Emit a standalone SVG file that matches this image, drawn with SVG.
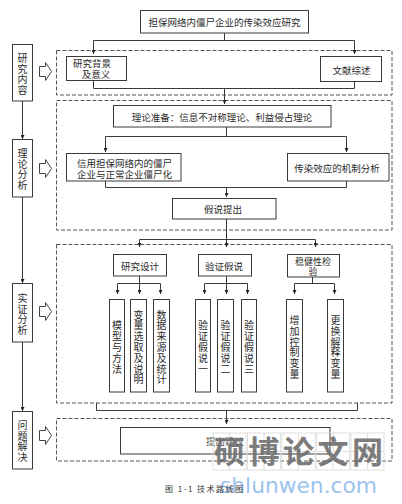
<svg xmlns="http://www.w3.org/2000/svg" width="402" height="504" viewBox="0 0 402 504">
<style>
.bg{fill:#ffffff}
.box{fill:#ffffff;stroke:#3a3a3a;stroke-width:1}
.frame{fill:none;stroke:#555555;stroke-width:1;stroke-dasharray:4 2}
.t{font-family:"Noto Sans CJK SC","Noto Sans CJK JP",sans-serif;font-size:9.5px;fill:#2a2a2a;text-anchor:middle;dominant-baseline:central}
.v{font-family:"Noto Sans CJK SC","Noto Sans CJK JP",sans-serif;font-size:10px;fill:#2a2a2a;text-anchor:middle;dominant-baseline:central}
.s{font-family:"Noto Sans CJK SC","Noto Sans CJK JP",sans-serif;font-size:10px;fill:#2a2a2a;text-anchor:middle;dominant-baseline:central}
.line{fill:none;stroke:#3a3a3a;stroke-width:1}
.hollow{fill:#ffffff;stroke:#444444;stroke-width:1}
.wm{font-family:"Noto Sans CJK SC",sans-serif;font-size:31px;font-weight:bold;fill:#6e6e6e;text-anchor:middle;opacity:0.9}
.cell{fill:none;stroke:#d8d8d8;stroke-width:0.8}
</style>
<defs>
<marker id="ah" viewBox="0 0 6 6" refX="6" refY="3" markerWidth="4" markerHeight="4" orient="auto" markerUnits="userSpaceOnUse">
<path d="M0,0 L6,3 L0,6 z" fill="#222222"/>
</marker>
<path id="harrow" d="M0,4 H6 V0 L12,9 L6,18 V14 H0 Z"/>
</defs>
<rect class="bg" x="0" y="0" width="402" height="504"/>

<g id="frames">
<rect class="frame" x="56.5" y="50.5" width="335.5" height="44.5"/>
<rect class="frame" x="56.5" y="100.5" width="335.5" height="129.5"/>
<rect class="frame" x="56.5" y="244.5" width="335.5" height="158.5"/>
<rect class="frame" x="56.5" y="418.5" width="335.5" height="42.5"/>
</g>

<g id="connectors">
<path class="line" d="M224.5,33 V40.5 M93.5,40.5 H354.5"/>
<path class="line" marker-end="url(#ah)" d="M93.5,40.5 V54"/>
<path class="line" marker-end="url(#ah)" d="M354.5,40.5 V54"/>
<path class="line" d="M93.5,80 V88.5 H354.5 V81"/>
<path class="line" marker-end="url(#ah)" d="M224.5,88.5 V104"/>
<path class="line" d="M226.5,127 V136.5 M105.5,136.5 H346.5"/>
<path class="line" marker-end="url(#ah)" d="M105.5,136.5 V152"/>
<path class="line" marker-end="url(#ah)" d="M346.5,136.5 V152"/>
<path class="line" d="M105.5,181 V187.5 H346.5 V181"/>
<path class="line" marker-end="url(#ah)" d="M226.5,187.5 V197"/>
<path class="line" d="M226.5,219 V239.5 M139.5,239.5 H315.5"/>
<path class="line" marker-end="url(#ah)" d="M139.5,239.5 V247"/>
<path class="line" marker-end="url(#ah)" d="M226.5,239.5 V247"/>
<path class="line" marker-end="url(#ah)" d="M315.5,239.5 V247"/>
<path class="line" d="M139.5,276 V283.5 M117.5,283.5 H160.5"/>
<path class="line" marker-end="url(#ah)" d="M117.5,283.5 V294"/>
<path class="line" marker-end="url(#ah)" d="M139.5,283.5 V294"/>
<path class="line" marker-end="url(#ah)" d="M160.5,283.5 V294"/>
<path class="line" d="M226.5,276 V283.5 M204.5,283.5 H247.5"/>
<path class="line" marker-end="url(#ah)" d="M204.5,283.5 V294"/>
<path class="line" marker-end="url(#ah)" d="M226.5,283.5 V294"/>
<path class="line" marker-end="url(#ah)" d="M247.5,283.5 V294"/>
<path class="line" d="M312.5,277 V283.5 M294.5,283.5 H334.5"/>
<path class="line" marker-end="url(#ah)" d="M294.5,283.5 V294"/>
<path class="line" marker-end="url(#ah)" d="M334.5,283.5 V294"/>
<path class="line" d="M96.5,403 V410.5 H357.5 V403"/>
<path class="line" marker-end="url(#ah)" d="M226.5,410.5 V424"/>
<path class="line" marker-end="url(#ah)" d="M22.5,101 V139"/>
<path class="line" marker-end="url(#ah)" d="M22.5,197 V283"/>
<path class="line" marker-end="url(#ah)" d="M22.5,342 V411"/>
</g>

<g id="side-arrows">
<use href="#harrow" class="hollow" x="39.5" y="62.5"/>
<use href="#harrow" class="hollow" x="39.5" y="159.5"/>
<use href="#harrow" class="hollow" x="39.5" y="302.5"/>
<use href="#harrow" class="hollow" x="39.5" y="426.5"/>
</g>

<g id="n-title"><rect class="box" x="140.5" y="10.5" width="168" height="22.5"/><text class="t" x="224.5" y="22">担保网络内僵尸企业的传染效应研究</text></g>

<g id="n-side1"><rect class="box" x="12.5" y="44.5" width="20" height="56.5"/><text class="s"><tspan x="22.5" y="57.25">研</tspan><tspan x="22.5" y="67.75">究</tspan><tspan x="22.5" y="78.25">内</tspan><tspan x="22.5" y="88.75">容</tspan></text></g>
<g id="n-side2"><rect class="box" x="12.5" y="139.5" width="20" height="57.5"/><text class="s"><tspan x="22.5" y="152.25">理</tspan><tspan x="22.5" y="162.75">论</tspan><tspan x="22.5" y="173.25">分</tspan><tspan x="22.5" y="183.75">析</tspan></text></g>
<g id="n-side3"><rect class="box" x="12.5" y="283.5" width="20" height="58.5"/><text class="s"><tspan x="22.5" y="297.25">实</tspan><tspan x="22.5" y="307.75">证</tspan><tspan x="22.5" y="318.25">分</tspan><tspan x="22.5" y="328.75">析</tspan></text></g>
<g id="n-side4"><rect class="box" x="12.5" y="411.5" width="20" height="57.5"/><text class="s"><tspan x="22.5" y="424.25">问</tspan><tspan x="22.5" y="434.75">题</tspan><tspan x="22.5" y="445.25">解</tspan><tspan x="22.5" y="455.75">决</tspan></text></g>

<g id="n-bg"><rect class="box" x="66.5" y="56.5" width="60" height="24"/><text class="t" x="92" y="62.5">研究背景</text><text class="t" x="96" y="73.5">及意义</text></g>
<g id="n-lit"><rect class="box" x="320.5" y="56.5" width="61" height="25"/><text class="t" x="351.5" y="69.5">文献综述</text></g>

<g id="n-theory"><rect class="box" x="113.5" y="105.5" width="217.5" height="21.5"/><text class="t" x="222" y="116.5">理论准备：信息不对称理论、利益侵占理论</text></g>
<g id="n-zombie"><rect class="box" x="66.5" y="153.5" width="114.5" height="27.5"/><text class="t" x="124.5" y="162.5">信用担保网络内的僵尸</text><text class="t" x="124.5" y="173.5">企业与正常企业僵尸化</text></g>
<g id="n-mech"><rect class="box" x="287.5" y="153.5" width="101.5" height="27.5"/><text class="t" x="337" y="168">传染效应的机制分析</text></g>
<g id="n-hyp"><rect class="box" x="172.5" y="198.5" width="103.5" height="20.5"/><text class="t" x="223" y="209">假说提出</text></g>

<g id="n-design"><rect class="box" x="113.5" y="254.5" width="53" height="21.5"/><text class="t" x="140" y="266">研究设计</text></g>
<g id="n-verify"><rect class="box" x="198.5" y="254.5" width="53" height="21.5"/><text class="t" x="224" y="266">验证假说</text></g>
<g id="n-robust"><rect class="box" x="287.5" y="254.5" width="52" height="22.5"/><text class="t" x="313" y="261" style="font-size:9px">稳健性检</text><text class="t" x="313" y="271.5" style="font-size:9px">验</text></g>

<g id="n-model"><rect class="box" x="109.5" y="299.5" width="15" height="92.5"/><text class="v"><tspan x="117" y="324.4">模</tspan><tspan x="117" y="335.2">型</tspan><tspan x="117" y="346">与</tspan><tspan x="117" y="356.8">方</tspan><tspan x="117" y="367.6">法</tspan></text></g>
<g id="n-var"><rect class="box" x="130.5" y="299.5" width="16" height="92.5"/><text class="v"><tspan x="138.5" y="313.6">变</tspan><tspan x="138.5" y="324.4">量</tspan><tspan x="138.5" y="335.2">选</tspan><tspan x="138.5" y="346">取</tspan><tspan x="138.5" y="356.8">及</tspan><tspan x="138.5" y="367.6">说</tspan><tspan x="138.5" y="378.4">明</tspan></text></g>
<g id="n-data"><rect class="box" x="153.5" y="299.5" width="16" height="92.5"/><text class="v"><tspan x="161.5" y="313.6">数</tspan><tspan x="161.5" y="324.4">据</tspan><tspan x="161.5" y="335.2">来</tspan><tspan x="161.5" y="346">源</tspan><tspan x="161.5" y="356.8">及</tspan><tspan x="161.5" y="367.6">统</tspan><tspan x="161.5" y="378.4">计</tspan></text></g>
<g id="n-v1"><rect class="box" x="195.5" y="299.5" width="15" height="92.5"/><text class="v"><tspan x="203" y="324.4">验</tspan><tspan x="203" y="335.2">证</tspan><tspan x="203" y="346">假</tspan><tspan x="203" y="356.8">说</tspan><tspan x="203" y="367.6">一</tspan></text></g>
<g id="n-v2"><rect class="box" x="217.5" y="299.5" width="16" height="92.5"/><text class="v"><tspan x="225.5" y="324.4">验</tspan><tspan x="225.5" y="335.2">证</tspan><tspan x="225.5" y="346">假</tspan><tspan x="225.5" y="356.8">说</tspan><tspan x="225.5" y="367.6">二</tspan></text></g>
<g id="n-v3"><rect class="box" x="241.5" y="299.5" width="15" height="92.5"/><text class="v"><tspan x="249" y="324.4">验</tspan><tspan x="249" y="335.2">证</tspan><tspan x="249" y="346">假</tspan><tspan x="249" y="356.8">说</tspan><tspan x="249" y="367.6">三</tspan></text></g>
<g id="n-ctrl"><rect class="box" x="286.5" y="299.5" width="16" height="92.5"/><text class="v"><tspan x="294.5" y="319">增</tspan><tspan x="294.5" y="329.8">加</tspan><tspan x="294.5" y="340.6">控</tspan><tspan x="294.5" y="351.4">制</tspan><tspan x="294.5" y="362.2">变</tspan><tspan x="294.5" y="373">量</tspan></text></g>
<g id="n-expl"><rect class="box" x="327.5" y="299.5" width="16" height="92.5"/><text class="v"><tspan x="335.5" y="319">更</tspan><tspan x="335.5" y="329.8">换</tspan><tspan x="335.5" y="340.6">解</tspan><tspan x="335.5" y="351.4">释</tspan><tspan x="335.5" y="362.2">变</tspan><tspan x="335.5" y="373">量</tspan></text></g>

<g id="n-advice"><rect class="box" x="120.5" y="427.5" width="209.5" height="26.5"/><text class="t" x="225" y="441" style="fill:#555555">提出建议</text></g>

<g id="watermark">
<rect class="cell" x="213" y="433" width="33" height="37"/><path class="cell" d="M229.5,433 V470 M213,451.5 H246"/>
<rect class="cell" x="247.5" y="433" width="33" height="37"/><path class="cell" d="M264,433 V470 M247.5,451.5 H280.5"/>
<rect class="cell" x="282" y="433" width="33" height="37"/><path class="cell" d="M298.5,433 V470 M282,451.5 H315"/>
<rect class="cell" x="316.5" y="433" width="33" height="37"/><path class="cell" d="M333,433 V470 M316.5,451.5 H349.5"/>
<rect class="cell" x="351" y="433" width="33" height="37"/><path class="cell" d="M367.5,433 V470 M351,451.5 H384"/>
<text class="wm" x="229.5" y="463">硕</text>
<text class="wm" x="264" y="463">博</text>
<text class="wm" x="298.5" y="463">论</text>
<text class="wm" x="333" y="463">文</text>
<text class="wm" x="367.5" y="463">网</text>
<text x="220" y="493" textLength="157" lengthAdjust="spacingAndGlyphs" style="font-family:'DejaVu Sans',sans-serif;font-size:21px;fill:#9cc3ee">shlunwen.com</text>
</g>

<text x="165" y="492" textLength="78" lengthAdjust="spacing" style="font-family:'Noto Sans CJK SC',sans-serif;font-size:8px;fill:#333333">图 1-1 技术路线图</text>
</svg>
